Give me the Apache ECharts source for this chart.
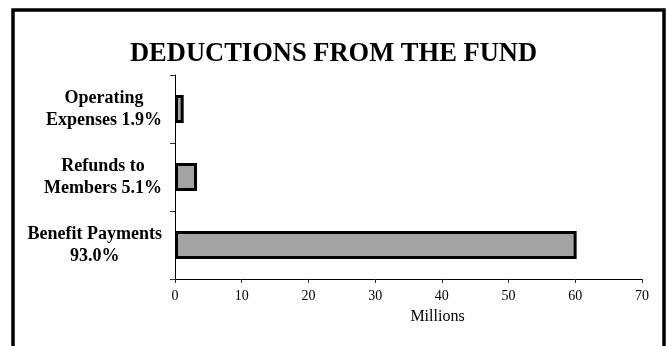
<!DOCTYPE html>
<html>
<head>
<meta charset="utf-8">
<script src="https://cdn.jsdelivr.net/npm/echarts@6/dist/echarts.min.js"></script>
<style>
  html, body { margin: 0; padding: 0; background: #fff; }
  #chart { width: 667px; height: 346px; }
</style>
</head>
<body>
<div id="chart"></div>
<script>
// Fund deductions, in millions of dollars (bottom to top)
const categories = ['Benefit Payments\n93.0%', 'Refunds to\nMembers 5.1%', 'Operating\nExpenses 1.9%'];
const amounts = [60.2, 3.3, 1.3];
const axisTicks = [0, 10, 20, 30, 40, 50, 60, 70];

const serif = '"Liberation Serif", "Times New Roman", serif';

const chart = echarts.init(document.getElementById('chart'), null, { renderer: 'canvas' });

chart.setOption({
  backgroundColor: '#ffffff',
  animation: false,
  title: {
    text: 'DEDUCTIONS FROM THE FUND',
    left: 'center',
    top: 36,
    textStyle: { fontFamily: serif, fontWeight: 'bold', fontSize: 26.5, color: '#000' }
  },
  graphic: [{
    type: 'rect',
    shape: { x: 13, y: 10, width: 651, height: 360 },
    style: { fill: 'none', stroke: '#000', lineWidth: 3.5 },
    silent: true
  }],
  grid: { left: 175, right: 25, top: 75, bottom: 67 },
  xAxis: {
    type: 'value',
    min: axisTicks[0],
    max: axisTicks[axisTicks.length - 1],
    interval: axisTicks[1] - axisTicks[0],
    name: 'Millions',
    nameLocation: 'middle',
    nameGap: 30,
    nameTextStyle: { fontFamily: serif, fontSize: 16, color: '#000', padding: [0, 0, 0, 58] },
    axisLine: { show: true, lineStyle: { color: '#000', width: 1 } },
    axisTick: { show: true, length: 4, lineStyle: { color: '#333' } },
    axisLabel: { fontFamily: serif, fontSize: 14, color: '#000', margin: 10 },
    splitLine: { show: false }
  },
  yAxis: {
    type: 'category',
    data: categories,
    axisLine: { show: true, lineStyle: { color: '#000', width: 1 } },
    axisTick: { show: true, length: 5, lineStyle: { color: '#333' } },
    axisLabel: {
      margin: 13,
      formatter: v => v.split('\n').map(s => '{c|' + s + '}').join('\n'),
      rich: {
        c: { fontFamily: serif, fontWeight: 'bold', fontSize: 18, lineHeight: 22, color: '#000', align: 'center' }
      }
    }
  },
  series: [{
    type: 'bar',
    data: amounts,
    barWidth: 28,
    itemStyle: { color: '#a3a3a3', borderColor: '#000', borderWidth: 3 }
  }]
});
</script>
</body>
</html>
